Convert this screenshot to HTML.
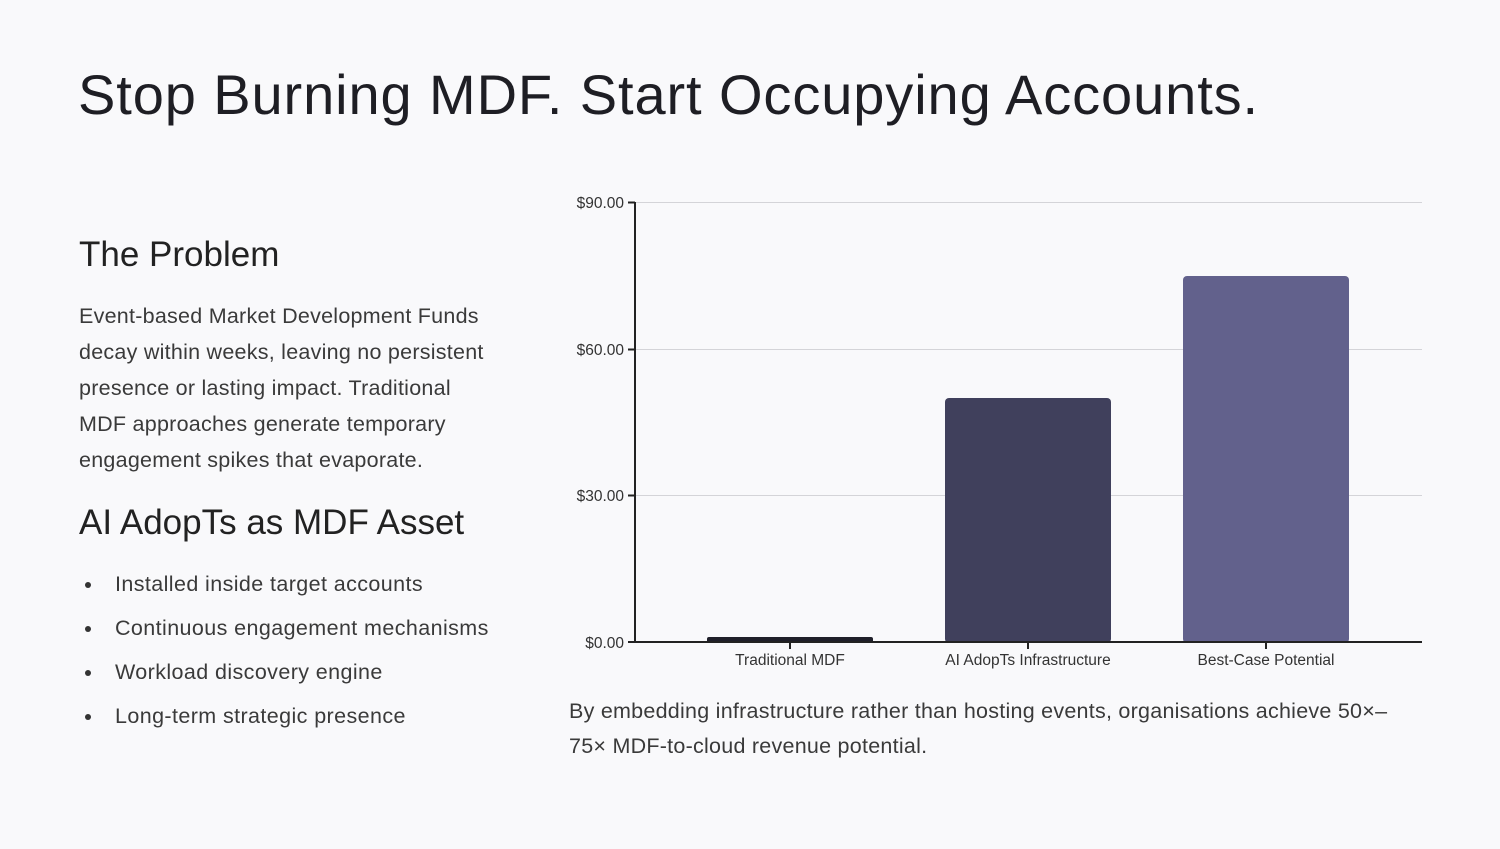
<!DOCTYPE html>
<html><head><meta charset="utf-8"><style>
body{margin:0;width:1500px;height:849px;background:#f9f9fb;font-family:"Liberation Sans",sans-serif;color:#222;overflow:hidden;position:relative}
.t{position:absolute;left:78px;top:62px;font-size:56px;font-weight:300;color:#1e1e24;letter-spacing:0.9px;white-space:nowrap}
h2{position:absolute;left:79px;margin:0;font-size:35px;font-weight:normal;color:#222}
.p{position:absolute;left:79px;top:298px;width:425px;font-size:21.5px;letter-spacing:0.25px;line-height:36px;color:#3a3a3a}
ul{position:absolute;left:79px;top:562px;margin:0;padding:0;list-style:none;font-size:21.5px;letter-spacing:0.4px;color:#3a3a3a}
li{height:44px;line-height:44px;padding-left:36px;position:relative}
li:before{content:"";position:absolute;left:6px;top:20px;width:6px;height:6px;border-radius:50%;background:#333}
.c{position:absolute;left:569px;top:694px;width:850px;font-size:21.5px;letter-spacing:0.25px;line-height:35px;color:#3a3a3a}
</style></head><body>
<div class="t">Stop Burning MDF. Start Occupying Accounts.</div>
<h2 style="top:235px">The Problem</h2>
<div class="p">Event-based Market Development Funds decay within weeks, leaving no persistent presence or lasting impact. Traditional MDF approaches generate temporary engagement spikes that evaporate.</div>
<h2 style="top:503px">AI AdopTs as MDF Asset</h2>
<ul><li>Installed inside target accounts</li><li>Continuous engagement mechanisms</li><li>Workload discovery engine</li><li>Long-term strategic presence</li></ul>
<svg style="position:absolute;left:0;top:0" width="1500" height="849" font-family="Liberation Sans, sans-serif" font-size="15.5" fill="#333">
<g stroke="#d4d4d8" stroke-width="1"><line x1="635" y1="202.5" x2="1422" y2="202.5"/><line x1="635" y1="349.5" x2="1422" y2="349.5"/><line x1="635" y1="495.5" x2="1422" y2="495.5"/></g>
<rect x="707" y="637" width="166" height="6" rx="2" fill="#1f1f2a"/>
<rect x="945" y="398" width="166" height="245" rx="4" fill="#40405c"/>
<rect x="1183" y="276" width="166" height="367" rx="4" fill="#62618c"/>
<g stroke="#222" stroke-width="2"><line x1="635" y1="202" x2="635" y2="643"/><line x1="634" y1="642" x2="1422" y2="642"/>
<line x1="628" y1="202.5" x2="635" y2="202.5"/><line x1="628" y1="349.5" x2="635" y2="349.5"/><line x1="628" y1="495.5" x2="635" y2="495.5"/><line x1="628" y1="642" x2="635" y2="642"/>
<line x1="790" y1="642" x2="790" y2="649"/><line x1="1028" y1="642" x2="1028" y2="649"/><line x1="1266" y1="642" x2="1266" y2="649"/></g>
<g text-anchor="end"><text x="624" y="208">$90.00</text><text x="624" y="355">$60.00</text><text x="624" y="501">$30.00</text><text x="624" y="648">$0.00</text></g>
<g text-anchor="middle"><text x="790" y="665">Traditional MDF</text><text x="1028" y="665">AI AdopTs Infrastructure</text><text x="1266" y="665">Best-Case Potential</text></g>
</svg>
<div class="c">By embedding infrastructure rather than hosting events, organisations achieve 50×–75× MDF-to-cloud revenue potential.</div>
</body></html>
